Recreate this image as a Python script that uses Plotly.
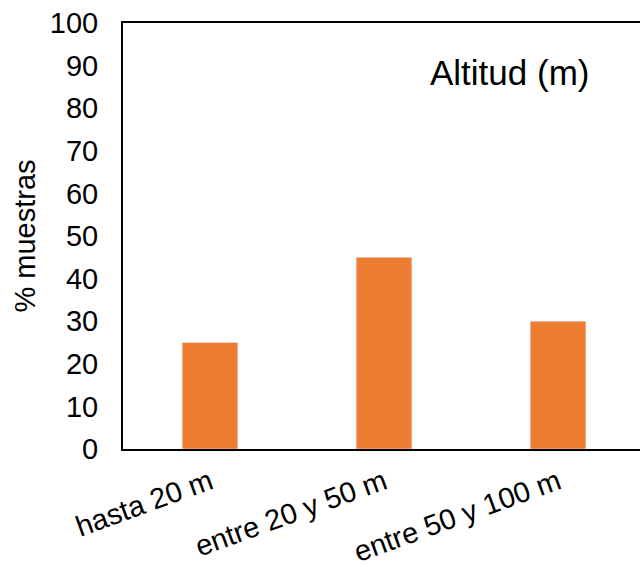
import plotly.graph_objects as go

categories = ["hasta 20 m", "entre 20 y 50 m", "entre 50 y 100 m"]
values = [25, 45, 30]
y_ticks = list(range(0, 101, 10))

font_family = "Liberation Sans, Arial, sans-serif"

W, H = 640, 567
l, t, b = 123, 23, 118
pw = W - l
ph = H - t - b

fig = go.Figure(go.Bar(
    x=[0, 1, 2], y=values, marker_color="#ED7D31", width=0.32,
))

fig.update_layout(
    width=W, height=H,
    margin=dict(l=l, r=0, t=t, b=b, autoexpand=False),
    plot_bgcolor="white", paper_bgcolor="white",
    showlegend=False,
    font=dict(family=font_family, color="black"),
    xaxis=dict(
        range=[-0.5, 2.471], tickmode="array", tickvals=[0, 1, 2], ticktext=categories,
        tickangle=-20, tickfont=dict(size=29), showline=True, linecolor="black",
        linewidth=2, mirror=True, showgrid=False, zeroline=False, ticks="",
        ticklabelstandoff=3, automargin=False,
    ),
    yaxis=dict(
        range=[0, 100], tickvals=y_ticks, tickfont=dict(size=29),
        showline=True, linecolor="black", linewidth=2, showgrid=False,
        zeroline=False, ticks="", ticklabelstandoff=17, automargin=False,
        title=dict(text="% muestras", font=dict(size=29), standoff=6),
    ),
    annotations=[dict(
        text="Altitud (m)", xref="paper", yref="paper",
        x=(509 - l) / pw, y=(H - b - 72) / ph,
        xanchor="center", yanchor="middle",
        showarrow=False, font=dict(size=35),
    )],
)

fig.write_html("out.html")
